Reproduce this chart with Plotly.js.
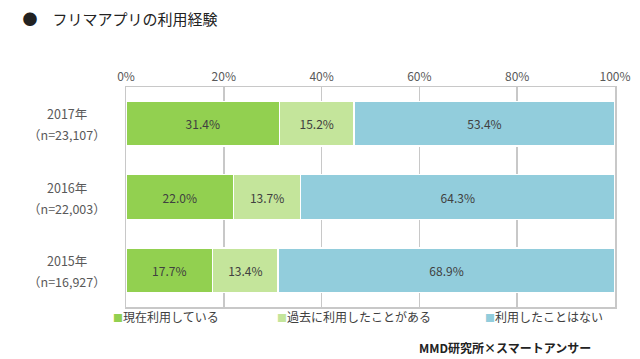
<!DOCTYPE html>
<html><head><meta charset="utf-8">
<script src="https://cdn.plot.ly/plotly-3.0.1.min.js"></script>
<style>body{margin:0;background:#fff}#chart{width:640px;height:359px}</style>
</head><body><div id="chart"></div>
<script>
const categories = ["2017年<br>（n=23,107）", "2016年<br>（n=22,003）", "2015年<br>（n=16,927）"];
const seriesNames = ["現在利用している", "過去に利用したことがある", "利用したことはない"];
const current = [31.4, 22.0, 17.7];
const past = [15.2, 13.7, 13.4];
const never = [53.4, 64.3, 68.9];
const tickVals = [0, 20, 40, 60, 80, 100];
const tickLabels = ["0%", "20%", "40%", "60%", "80%", "100%"];
const colors = ["#92d050", "#c4e59b", "#92cddc"];
const font = "Noto Sans CJK JP, Meiryo, sans-serif";

const series = [current, past, never];
const traces = series.map((vals, i) => ({
  type: "bar", orientation: "h", name: seriesNames[i],
  y: categories, x: vals,
  text: vals.map(v => v.toFixed(1) + "%"),
  textposition: "inside", insidetextanchor: "middle",
  textfont: {family: font, size: 12, color: "#404040"},
  marker: {color: colors[i], line: {color: "#ffffff", width: 1.5}},
  hoverinfo: "skip"
}));

const annotations = seriesNames.map((n, i) => ({
  xref: "paper", yref: "paper", x: [-0.03, 0.305, 0.73][i], y: -0.045,
  xanchor: "left", yanchor: "middle", showarrow: false,
  text: '<span style="color:' + colors[i] + ';font-size:10px">■</span>' + n,
  font: {family: font, size: 12, color: "#404040"}
}));
categories.forEach(c => {
  c.split("<br>").forEach((line, k) => annotations.push({
    xref: "paper", yref: "y", x: -0.121, y: c, xanchor: "center", yanchor: "middle",
    yshift: k === 0 ? 10 : -11, showarrow: false, text: line,
    font: {family: font, size: 12.5, color: "#595959"}
  }));
});
annotations.push({
  xref: "paper", yref: "paper", x: 0.955, y: -0.186, xanchor: "right", yanchor: "middle",
  showarrow: false, text: "<b>MMD研究所×スマートアンサー</b>",
  font: {family: font, size: 12, color: "#222222"}
});

const layout = {
  width: 640, height: 359,
  margin: {l: 126, r: 25, t: 87, b: 52},
  paper_bgcolor: "#ffffff", plot_bgcolor: "#ffffff",
  barmode: "stack", bargap: 0.39, showlegend: false,
  title: {text: "●　フリマアプリの利用経験", x: 0.035, xanchor: "left", y: 0.945, yanchor: "middle",
          font: {family: font, size: 15, color: "#222222"}},
  font: {family: font, color: "#595959", size: 12},
  xaxis: {side: "top", range: [0, 100], tickvals: tickVals, ticktext: tickLabels,
          showgrid: true, gridcolor: "#c8c8c8", gridwidth: 1.5,
          showline: true, linecolor: "#c8c8c8", linewidth: 1.5, mirror: true,
          zeroline: false, ticks: "", ticklen: 0, tickfont: {size: 12, color: "#595959"}, fixedrange: true},
  yaxis: {categoryorder: "array", categoryarray: categories, autorange: "reversed",
          showline: true, linecolor: "#c8c8c8", linewidth: 1.5, mirror: true,
          ticks: "", showticklabels: false},
  annotations: annotations
};
Plotly.newPlot("chart", traces, layout, {staticPlot: true});
</script></body></html>
